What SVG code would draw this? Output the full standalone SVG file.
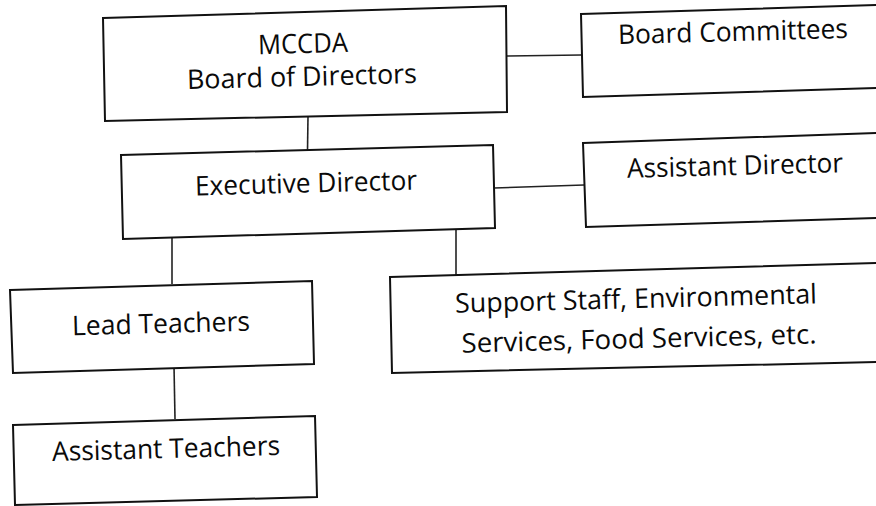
<svg xmlns="http://www.w3.org/2000/svg" width="876" height="506" viewBox="0 0 876 506">
  <style>
    .box { fill: #ffffff; stroke: #111111; stroke-width: 2; stroke-linejoin: miter; }
    .link { fill: none; stroke: #222222; stroke-width: 1.6; }
    .label { font-family: "Open Sans", "Liberation Sans", Arial, sans-serif; font-size: 27px; fill: #0a0a0a; text-anchor: middle; }
  </style>
  <rect width="876" height="506" fill="#ffffff"/>

  <!-- reporting lines -->
  <g id="connectors">
    <line class="link" x1="506" y1="56" x2="581" y2="55"/>
    <line class="link" x1="308" y1="116" x2="307.5" y2="151"/>
    <line class="link" x1="494" y1="188" x2="584" y2="185"/>
    <line class="link" x1="172" y1="238" x2="172" y2="284"/>
    <line class="link" x1="456" y1="230" x2="456" y2="276"/>
    <line class="link" x1="174" y1="366" x2="175" y2="419"/>
  </g>

  <g id="board">
    <polygon class="box" points="103,18 506,6 507,112 105,121"/>
    <text class="label" x="303" y="53" textLength="90" lengthAdjust="spacingAndGlyphs" transform="rotate(-1.5 303 45)">MCCDA</text>
    <text class="label" x="302" y="86" textLength="230" lengthAdjust="spacingAndGlyphs" transform="rotate(-1.5 302 78)">Board of Directors</text>
  </g>

  <g id="committees">
    <polygon class="box" points="581,14 878,5 878,88 583,97"/>
    <text class="label" x="733" y="41" textLength="230" lengthAdjust="spacingAndGlyphs" transform="rotate(-1.5 733 33)">Board Committees</text>
  </g>

  <g id="executive">
    <polygon class="box" points="121,155 493,145 495,228 123,239"/>
    <text class="label" x="306" y="192.5" textLength="222" lengthAdjust="spacingAndGlyphs" transform="rotate(-1.5 306 184)">Executive Director</text>
  </g>

  <g id="assistant-director">
    <polygon class="box" points="583,143 878,133 878,218 586,227"/>
    <text class="label" x="735" y="175" textLength="216" lengthAdjust="spacingAndGlyphs" transform="rotate(-1.5 735 167)">Assistant Director</text>
  </g>

  <g id="lead-teachers">
    <polygon class="box" points="10,290 312,281 314,364 13,373"/>
    <text class="label" x="161" y="333" textLength="178" lengthAdjust="spacingAndGlyphs" transform="rotate(-1.5 161 325)">Lead Teachers</text>
  </g>

  <g id="support-staff">
    <polygon class="box" points="390,277 878,263 878,362 392,373"/>
    <text class="label" x="636" y="308" textLength="362" lengthAdjust="spacingAndGlyphs" transform="rotate(-1.5 636 300)">Support Staff, Environmental</text>
    <text class="label" x="639" y="348" textLength="355" lengthAdjust="spacingAndGlyphs" transform="rotate(-1.5 639 340)">Services, Food Services, etc.</text>
  </g>

  <g id="assistant-teachers">
    <polygon class="box" points="13,425 315,416 317,497 15,505"/>
    <text class="label" x="166" y="458" textLength="228" lengthAdjust="spacingAndGlyphs" transform="rotate(-1.5 166 450)">Assistant Teachers</text>
  </g>
</svg>
